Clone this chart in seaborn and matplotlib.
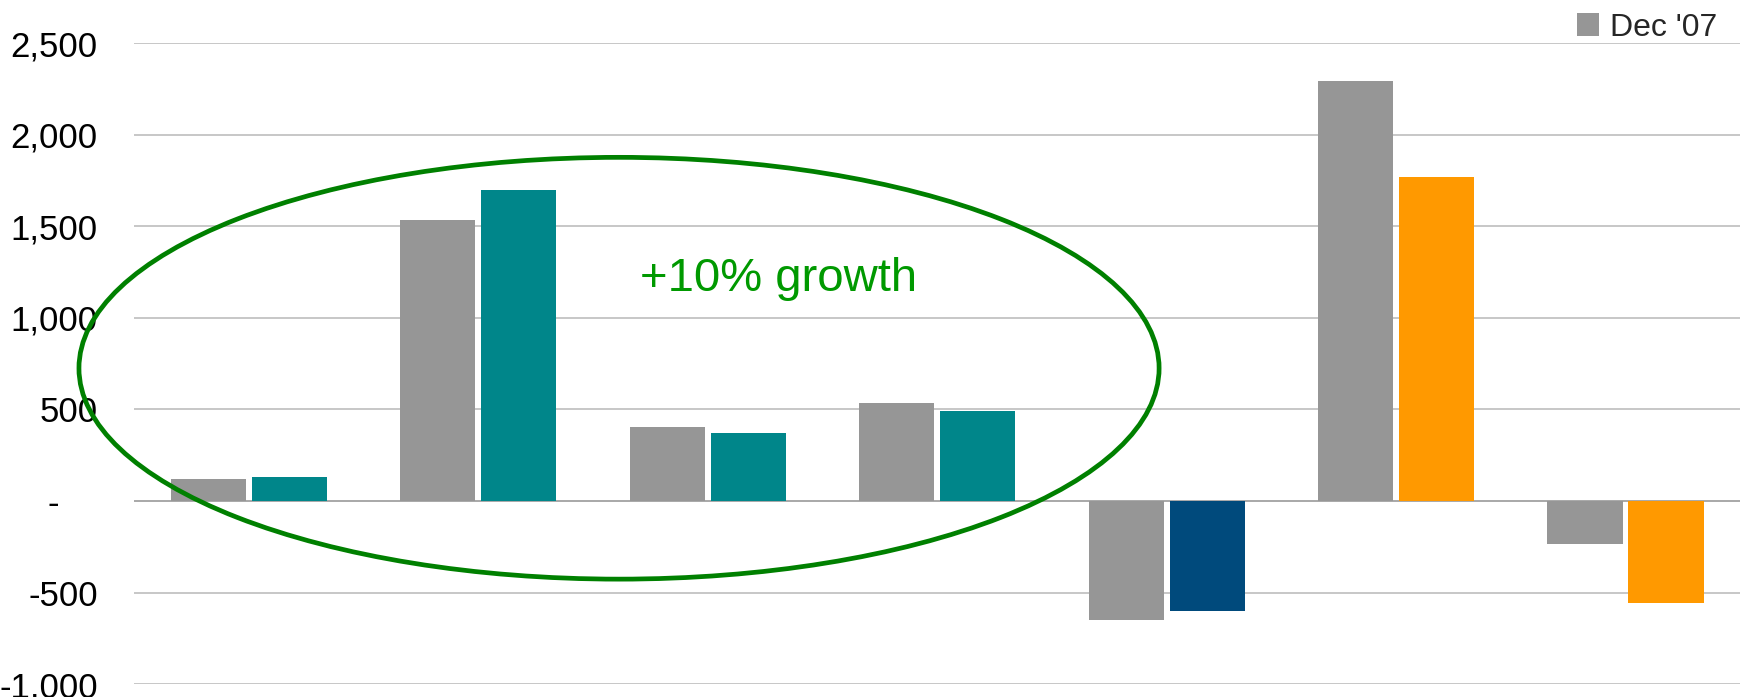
import matplotlib
matplotlib.use("Agg")
import matplotlib.pyplot as plt
from matplotlib.patches import Ellipse, Patch
from matplotlib.ticker import FuncFormatter
import seaborn as sns
import pandas as pd

# Data
segments = ["S1", "S2", "S3", "S4", "S5", "S6", "S7"]
dec07 = [120, 1535, 405, 535, -650, 2290, -235]
dec08 = [130, 1700, 370, 490, -600, 1770, -555]
series_names = ["Dec '07", "Dec '08"]
dec08_colors = ["#00868A", "#00868A", "#00868A", "#00868A", "#004A7C", "#FF9900", "#FF9900"]
gray = "#969696"
y_ticks = [-1000, -500, 0, 500, 1000, 1500, 2000, 2500]
note = "+10% growth"

df = pd.DataFrame({
    "segment": segments * 2,
    "value": dec07 + dec08,
    "series": [series_names[0]] * len(segments) + [series_names[1]] * len(segments),
})

sns.set_theme(style="white")
plt.rcParams["font.family"] = ["Liberation Sans", "DejaVu Sans"]
plt.rcParams["axes.unicode_minus"] = False

fig = plt.figure(figsize=(17.46, 6.97), dpi=100)
ax = fig.add_axes([0.0767, 0.0182, 0.920, 0.9201])

sns.barplot(data=df, x="segment", y="value", hue="series",
            palette=[gray, dec08_colors[0]], width=0.706, gap=0.074,
            saturation=1, legend=False, ax=ax)

# second series bars take per-segment colours
for patch, c in zip(ax.containers[1].patches, dec08_colors):
    patch.set_facecolor(c)
    patch.set_edgecolor("none")
for patch in ax.containers[0].patches:
    patch.set_edgecolor("none")

ax.set_xlim(-0.5, len(segments) - 0.5)
ax.set_ylim(y_ticks[0], y_ticks[-1])
ax.set_yticks(y_ticks)


def fmt(v, pos):
    if abs(v) < 1e-9:
        return "-\u2007\u2007"
    return f"{int(round(v)):,}"


ax.yaxis.set_major_formatter(FuncFormatter(fmt))
ax.tick_params(axis="y", length=0, pad=26, labelsize=25, labelcolor="black")
ax.set_xticks([])
ax.set_xlabel("")
ax.set_ylabel("")

ax.grid(False)
for yv in y_ticks:
    ax.axhline(yv, color="#999999" if yv == 0 else "#bdbdbd", lw=1.2, zorder=0.5)
for s in ax.spines.values():
    s.set_visible(False)
ax.set_axisbelow(True)

# highlight around the first four segments
ax.add_patch(Ellipse((1.614, 725), width=4.707, height=2302, fill=False,
                     edgecolor="#008000", lw=3.4, zorder=5, clip_on=False))
ax.text(2.309, 1145, note, color="#009900", fontsize=34, ha="center",
        va="baseline", zorder=6)

fig.legend(handles=[Patch(facecolor=gray, edgecolor="none")], labels=[series_names[0]],
           loc="upper right", bbox_to_anchor=(0.991, 1.0), frameon=False,
           fontsize=23, handlelength=0.7, handleheight=0.72, handletextpad=0.35,
           borderaxespad=0.2, borderpad=0.2)

fig.savefig("out.png", dpi=100, facecolor="white")
